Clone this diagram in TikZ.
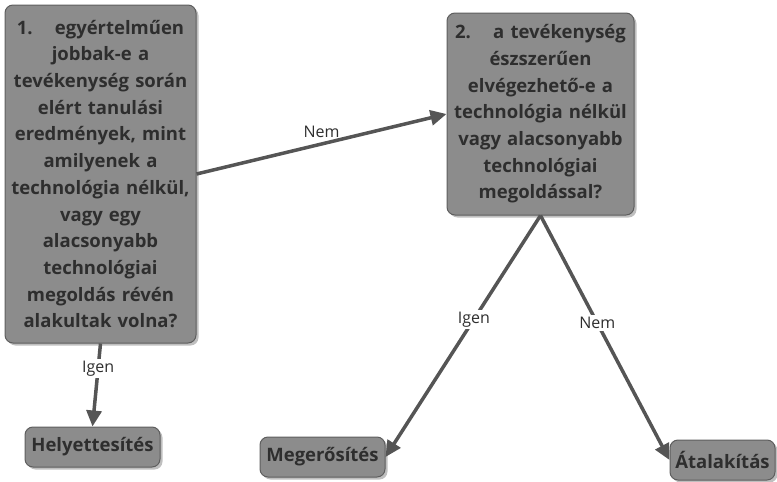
\documentclass[tikz,border=0pt]{standalone}
\usepackage{fontspec}
\setmainfont{Open Sans}
\usetikzlibrary{shadows,arrows.meta}
\definecolor{boxfill}{HTML}{8C8C8C}
\definecolor{boxdraw}{HTML}{5E5E5E}
\definecolor{txt}{HTML}{2E2E2E}
\definecolor{arr}{HTML}{555555}
\tikzset{
  qbox/.style={draw=boxdraw, line width=1pt, fill=boxfill, rounded corners=8pt,
    drop shadow={shadow xshift=2.5pt, shadow yshift=-2.5pt, opacity=0.5},
    align=center, text=txt, font=\fontsize{18.5}{26.7}\selectfont\bfseries, inner sep=0.5pt},
  rbox/.style={qbox, minimum height=40pt},
  conn/.style={draw=arr, line width=3.5pt, -{Triangle[length=16pt,width=15pt]}},
  lbl/.style={font=\fontsize{16}{18}\selectfont, text=txt, fill=white, inner sep=2pt}
}
\begin{document}
\begin{tikzpicture}[x=1pt,y=-1pt]
\useasboundingbox (0,0) rectangle (777,482);
\node[qbox, text width=190pt, minimum width=191pt, minimum height=338pt] (q1) at (100.5,174)
  {1.\hspace{1.2em}egyértelműen\\jobbak-e a\\tevékenység során\\elért tanulási\\eredmények, mint\\amilyenek a\\technológia nélkül,\\vagy egy\\alacsonyabb\\technológiai\\megoldás révén\\alakultak volna?};
\node[qbox, text width=186pt, minimum width=187pt, minimum height=202pt] (q2) at (540.5,114)
  {2.\hspace{1.2em}a tevékenység\\észszerűen\\elvégezhető-e a\\technológia nélkül\\vagy alacsonyabb\\technológiai\\megoldással?};
\node[rbox, minimum width=135pt] (h) at (92.5,447) {Helyettesítés};
\node[rbox, minimum width=125pt] (m) at (322.5,457) {Megerősítés};
\node[rbox, minimum width=105pt] (a) at (722.5,460) {Átalakítás};
\draw[conn] (q1.east) -- node[lbl, midway, above=3pt, fill=none] {Nem} (q2.west);
\draw[conn] (q1.south) -- node[lbl, pos=0.3] {Igen} (h.north);
\draw[conn] (q2.south) -- node[lbl, pos=0.43] {Igen} (m.east);
\draw[conn] (q2.south) -- node[lbl, pos=0.44] {Nem} (a.west);
\end{tikzpicture}
\end{document}
